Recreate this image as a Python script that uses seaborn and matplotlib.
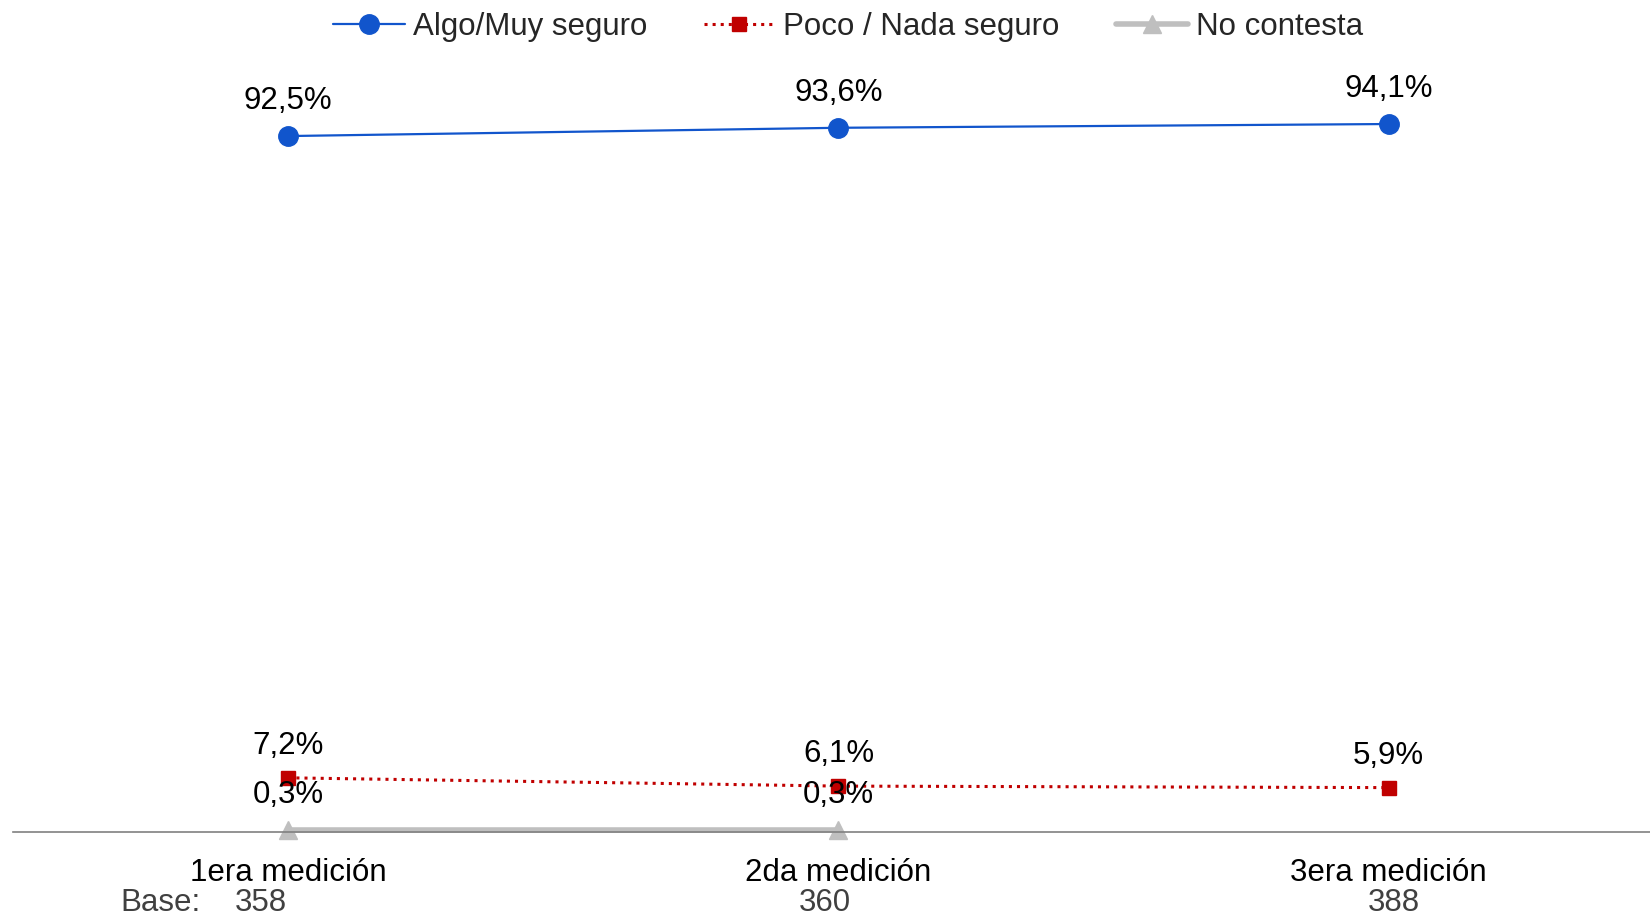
import numpy as np
import pandas as pd
import matplotlib
matplotlib.use("Agg")
import matplotlib.pyplot as plt
import seaborn as sns

# data
mediciones = ["1era medición", "2da medición", "3era medición"]
bases = [358, 360, 388]
seguro = [92.5, 93.6, 94.1]
poco_nada = [7.2, 6.1, 5.9]
no_contesta = [0.3, 0.3, np.nan]

series = [
    ("Algo/Muy seguro", seguro, "#1155CC", "-", "o", 14, 1.6, 25),
    ("Poco / Nada seguro", poco_nada, "#C00000", ":", "s", 10, 2.2, 23),
    ("No contesta", no_contesta, "#BFBFBF", "-", "^", 13, 4.0, 25),
]

sns.set_style("white")
plt.rcParams['font.family'] = ['Liberation Sans', 'DejaVu Sans']
FS = 22.5

fig = plt.figure(figsize=(16.5, 9.17), dpi=100)
ax = fig.add_axes([0.008, 0.0927, 0.992, 0.818])

x = np.arange(len(mediciones))
for name, vals, col, ls, mk, ms, lw, off in series:
    df = pd.DataFrame({"x": x, "y": vals})
    sns.lineplot(data=df, x="x", y="y", ax=ax, color=col, linestyle=ls,
                 marker=mk, markersize=ms, linewidth=lw, label=name,
                 markeredgecolor=col, markeredgewidth=1, clip_on=False)
    for xi, v in zip(x, vals):
        if np.isnan(v):
            continue
        ax.annotate(("%.1f%%" % v).replace(".", ","), (xi, v),
                    xytext=(0, off), textcoords="offset points",
                    ha="center", va="center", fontsize=FS, color="black")

ax.set_xlim(-0.5, 2.475)
ax.set_ylim(0, 99.7)
ax.set_xticks(x)
ax.set_xticklabels(mediciones, fontsize=FS, color="black")
ax.tick_params(axis="x", length=0, pad=19)
ax.set_yticks([])
ax.set_xlabel("")
ax.set_ylabel("")
for s in ["top", "left", "right"]:
    ax.spines[s].set_visible(False)
ax.spines["bottom"].set_color("#808080")
ax.spines["bottom"].set_linewidth(1.2)

# base row
trans = ax.get_xaxis_transform()
ax.text(-0.16, -0.094, "Base:", transform=trans, ha="right", va="center",
        fontsize=FS, color="#404040")
base_dx = [-0.05, -0.025, 0.01]
for xi, b, dx in zip(x, bases, base_dx):
    ax.text(xi + dx, -0.094, str(b), transform=trans, ha="center",
            va="center", fontsize=FS, color="#404040")

ax.legend(loc="upper center", bbox_to_anchor=(0.51, 1.131), ncol=3,
          frameon=False, fontsize=FS, handlelength=2.3, handletextpad=0.25,
          columnspacing=1.8)

fig.savefig("out.png", dpi=100)
